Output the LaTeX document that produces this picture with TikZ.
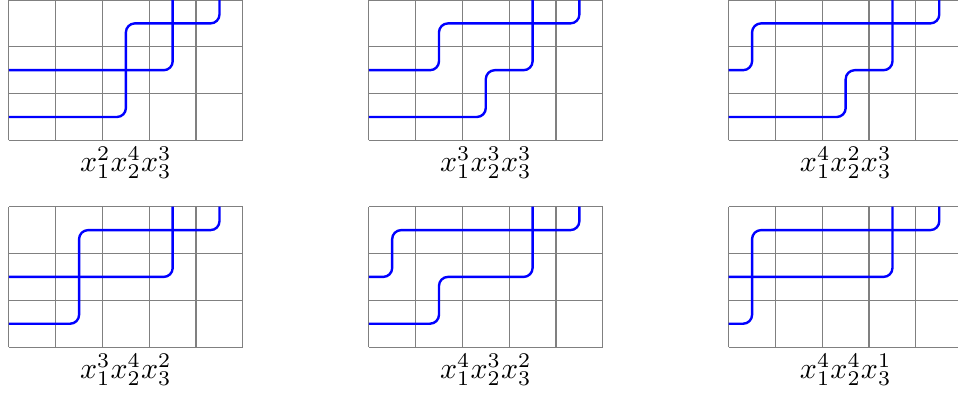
\documentclass[tikz,border=0pt]{standalone}
\usepackage{amsmath}
\usetikzlibrary{positioning}

\begin{document}
\begin{tikzpicture}[x=0.55cm, y=0.55cm,
    gridline/.style={gray, line width=0.4pt},
    lpath/.style={blue, thick, rounded corners=3pt},
    monolabel/.style={below=0pt, inner sep=2pt}]
    \clip (-0.19,-0.99) rectangle (20.28,7.417);

    % Grids
    \foreach \dx in {0, 7.69, 15.38}
        \foreach \dy in {0, 4.417} {
            \foreach \i in {0,...,5} \draw[gridline] (\dx+\i,\dy) -- (\dx+\i,\dy+3);
            \foreach \j in {0,...,3} \draw[gridline] (\dx,\dy+\j) -- (\dx+5,\dy+\j);
        }

    % Top row
    \begin{scope}[shift={(0,4.417)}]
        \draw[lpath] (0,0.5) -- (2.5,0.5) -- (2.5,2.5) -- (4.5,2.5) -- (4.5,3);
        \draw[lpath] (0,1.5) -- (3.5,1.5) -- (3.5,3);
        \node[monolabel] (m1) at (2.5,0) {$x_1^2x_2^4x_3^3$};
    \end{scope}
    \begin{scope}[shift={(7.69,4.417)}]
        \draw[lpath] (0,0.5) -- (2.5,0.5) -- (2.5,1.5) -- (3.5,1.5) -- (3.5,3);
        \draw[lpath] (0,1.5) -- (1.5,1.5) -- (1.5,2.5) -- (4.5,2.5) -- (4.5,3);
        \node[monolabel] (m2) at (2.5,0) {$x_1^3x_2^3x_3^3$};
    \end{scope}
    \begin{scope}[shift={(15.38,4.417)}]
        \draw[lpath] (0,0.5) -- (2.5,0.5) -- (2.5,1.5) -- (3.5,1.5) -- (3.5,3);
        \draw[lpath] (0,1.5) -- (0.5,1.5) -- (0.5,2.5) -- (4.5,2.5) -- (4.5,3);
        \node[monolabel] (m3) at (2.5,0) {$x_1^4x_2^2x_3^3$};
    \end{scope}

    % Bottom row
    \begin{scope}
        \draw[lpath] (0,0.5) -- (1.5,0.5) -- (1.5,2.5) -- (4.5,2.5) -- (4.5,3);
        \draw[lpath] (0,1.5) -- (3.5,1.5) -- (3.5,3);
        \node[monolabel] (m4) at (2.5,0) {$x_1^3x_2^4x_3^2$};
    \end{scope}
    \begin{scope}[shift={(7.69,0)}]
        \draw[lpath] (0,0.5) -- (1.5,0.5) -- (1.5,1.5) -- (3.5,1.5) -- (3.5,3);
        \draw[lpath] (0,1.5) -- (0.5,1.5) -- (0.5,2.5) -- (4.5,2.5) -- (4.5,3);
        \node[monolabel] (m5) at (2.5,0) {$x_1^4x_2^3x_3^2$};
    \end{scope}
    \begin{scope}[shift={(15.38,0)}]
        \draw[lpath] (0,0.5) -- (0.5,0.5) -- (0.5,2.5) -- (4.5,2.5) -- (4.5,3);
        \draw[lpath] (0,1.5) -- (3.5,1.5) -- (3.5,3);
        \node[monolabel] (m6) at (2.5,0) {$x_1^4x_2^4x_3^1$};
    \end{scope}
\end{tikzpicture}
\end{document}
